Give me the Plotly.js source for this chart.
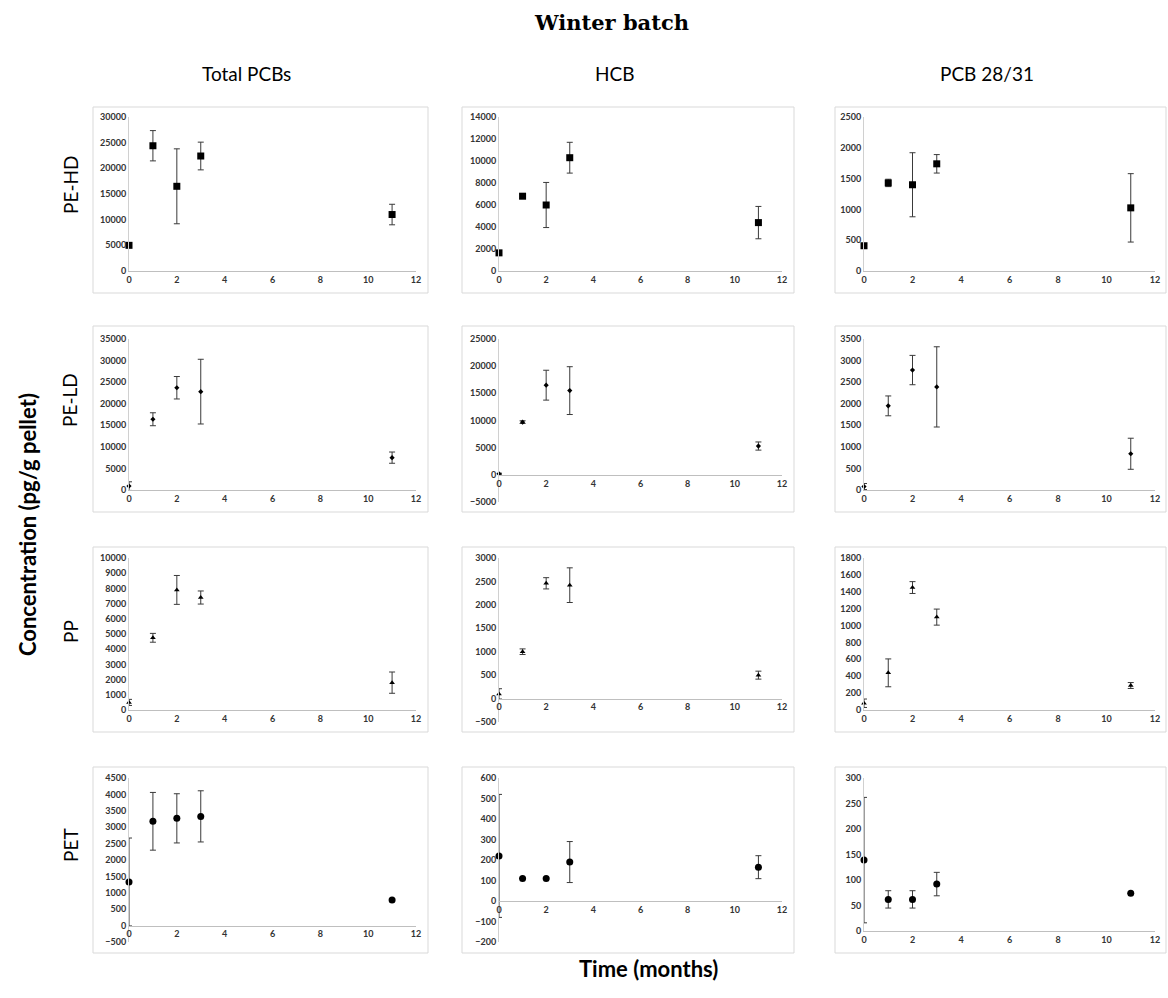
<!DOCTYPE html>
<html><head><meta charset="utf-8">
<script src="https://cdn.plot.ly/plotly-3.0.1.min.js"></script>
<style>body{margin:0;background:#fff}#chart{width:1168px;height:998px}</style>
</head><body><div id="chart"></div>
<script>
// ---------------- data ----------------
const months = [0, 1, 2, 3, 11];
const materials = ['PE-HD', 'PE-LD', 'PP', 'PET'];
const compounds = ['Total PCBs', 'HCB', 'PCB 28/31'];
const xTicks = [0, 2, 4, 6, 8, 10, 12];

// PE-HD
const peHdTotal = [5000, 24400, 16500, 22400, 11000];
const peHdTotalErr = [150, 2950, 7300, 2700, 2000];
const peHdHcb = [1650, 6800, 6000, 10300, 4400];
const peHdHcbErr = [60, 200, 2050, 1400, 1470];
const peHdPcb28 = [410, 1430, 1400, 1740, 1025];
const peHdPcb28Err = [10, 60, 520, 150, 555];
// PE-LD
const peLdTotal = [900, 16400, 23700, 22800, 7500];
const peLdTotalErr = [1000, 1500, 2600, 7500, 1300];
const peLdHcb = [200, 9700, 16500, 15500, 5300];
const peLdHcbErr = [100, 250, 2750, 4400, 750];
const peLdPcb28 = [80, 1950, 2780, 2390, 840];
const peLdPcb28Err = [70, 230, 340, 930, 360];
// PP
const ppTotal = [500, 4750, 7900, 7400, 1800];
const ppTotalErr = [200, 290, 950, 430, 700];
const ppHcb = [100, 1000, 2460, 2420, 500];
const ppHcbErr = [110, 60, 120, 370, 85];
const ppPcb28 = [80, 440, 1450, 1100, 290];
const ppPcb28Err = [50, 165, 70, 95, 35];
// PET
const petTotal = [1330, 3180, 3270, 3330, 780];
const petTotalErr = [1340, 880, 750, 780, 0];
const petHcb = [220, 110, 110, 190, 165];
const petHcbErr = [300, 0, 5, 100, 56];
const petPcb28 = [139, 62, 62, 92, 74];
const petPcb28Err = [123, 17, 17, 23, 0];

const values = [
  [peHdTotal, peHdHcb, peHdPcb28],
  [peLdTotal, peLdHcb, peLdPcb28],
  [ppTotal, ppHcb, ppPcb28],
  [petTotal, petHcb, petPcb28]
];
const errors = [
  [peHdTotalErr, peHdHcbErr, peHdPcb28Err],
  [peLdTotalErr, peLdHcbErr, peLdPcb28Err],
  [ppTotalErr, ppHcbErr, ppPcb28Err],
  [petTotalErr, petHcbErr, petPcb28Err]
];

// ---------------- axis settings ----------------
const yRanges = [
  [[0, 30000, 5000], [0, 14000, 2000], [0, 2500, 500]],
  [[0, 35000, 5000], [-5000, 25000, 5000], [0, 3500, 500]],
  [[0, 10000, 1000], [-500, 3000, 500], [0, 1800, 200]],
  [[-500, 4500, 500], [-200, 600, 100], [0, 300, 50]]
];
const markerSymbols = ['square', 'diamond', 'triangle-up', 'circle'];
const markerSizes = [7, 4, 5, 7];

// ---------------- layout geometry (pixels) ----------------
const W = 1168, H = 998;
const colPlot = [[129, 416], [499, 782], [864, 1155]];
const colBox = [[93, 428], [462, 794], [835, 1166]];
const rowTop = [117, 339, 558, 778];
const rowZero = [271, 490, 710, 931];
const rowNeg = [285, 502, 722, 942];
const rowBox = [[107, 293], [326, 512], [547, 732], [767, 953]];
const px = v => v / W;
const py = v => 1 - v / H;

const tickFont = {family: 'Lato, sans-serif', size: 9, color: '#333333', weight: 700};
const traces = [];
const layout = {
  width: W, height: H,
  margin: {l: 0, r: 0, t: 0, b: 0},
  paper_bgcolor: '#fff', plot_bgcolor: 'rgba(0,0,0,0)',
  showlegend: false,
  shapes: [], annotations: []
};

let k = 0;
for (let r = 0; r < 4; r++) {
  for (let c = 0; c < 3; c++) {
    k++;
    const sfx = k === 1 ? '' : String(k);
    const [ymin, ymax, dy] = yRanges[r][c];
    const bottom = ymin < 0 ? rowNeg[r] : rowZero[r];
    const yd = [py(bottom), py(rowTop[r])];
    const xd = [px(colPlot[c][0]), px(colPlot[c][1])];
    const zeroPos = yd[0] + (0 - ymin) / (ymax - ymin) * (yd[1] - yd[0]);
    traces.push({
      type: 'scatter', mode: 'markers',
      x: months, y: values[r][c],
      xaxis: 'x' + sfx, yaxis: 'y' + sfx,
      cliponaxis: false,
      marker: {symbol: markerSymbols[r], size: markerSizes[r], color: '#000'},
      error_y: {type: 'data', array: errors[r][c], visible: true, color: '#3a3a3a', thickness: 1, width: 3},
      hoverinfo: 'x+y'
    });
    const xa = {
      domain: xd, range: [0, 12], tickvals: xTicks,
      anchor: ymin < 0 ? 'free' : 'y' + sfx,
      showline: true, linecolor: '#bfbfbf', linewidth: 1,
      showgrid: false, zeroline: false, ticks: '', ticklen: 0,
      tickfont: tickFont, fixedrange: true
    };
    if (ymin < 0) xa.position = zeroPos;
    layout['xaxis' + sfx] = xa;
    layout['yaxis' + sfx] = {
      domain: yd, range: [ymin, ymax], dtick: dy, tick0: 0,
      anchor: 'x' + sfx,
      showline: true, linecolor: '#d0d0d0', linewidth: 1,
      showgrid: false, zeroline: false, ticks: '', ticklen: 0,
      tickfont: tickFont, tickformat: 'd',
      fixedrange: true
    };
    layout.shapes.push({
      type: 'rect', xref: 'paper', yref: 'paper',
      x0: px(colBox[c][0]), x1: px(colBox[c][1]),
      y0: py(rowBox[r][1]), y1: py(rowBox[r][0]),
      line: {color: '#d9d9d9', width: 1}, fillcolor: 'rgba(0,0,0,0)', layer: 'below'
    });
  }
}

// titles
const colTitleX = [246, 614, 987];
compounds.forEach((t, i) => layout.annotations.push({
  text: t, xref: 'paper', yref: 'paper', x: px(colTitleX[i]), y: py(73),
  xanchor: 'center', yanchor: 'middle', showarrow: false,
  font: {family: 'Lato, sans-serif', size: 19, color: '#000'}
}));
const rowLabelY = [185, 400, 632, 845];
materials.forEach((t, i) => layout.annotations.push({
  text: t, xref: 'paper', yref: 'paper', x: px(70), y: py(rowLabelY[i]),
  xanchor: 'center', yanchor: 'middle', showarrow: false, textangle: -90,
  font: {family: 'Lato, sans-serif', size: 19, color: '#000'}
}));
layout.annotations.push({
  text: 'Winter batch', xref: 'paper', yref: 'paper', x: px(611), y: py(23),
  xanchor: 'center', yanchor: 'middle', showarrow: false,
  font: {family: 'DejaVu Serif, serif', size: 21, color: '#000', weight: 700}
});
layout.annotations.push({
  text: 'Concentration (pg/g pellet)', xref: 'paper', yref: 'paper', x: px(27), y: py(525),
  xanchor: 'center', yanchor: 'middle', showarrow: false, textangle: -90,
  font: {family: 'Lato, sans-serif', size: 22, color: '#000', weight: 700}
});
layout.annotations.push({
  text: 'Time (months)', xref: 'paper', yref: 'paper', x: px(648), y: py(968),
  xanchor: 'center', yanchor: 'middle', showarrow: false,
  font: {family: 'Lato, sans-serif', size: 22, color: '#000', weight: 700}
});

Plotly.newPlot('chart', traces, layout, {displayModeBar: false, staticPlot: true});
</script>
</body></html>
